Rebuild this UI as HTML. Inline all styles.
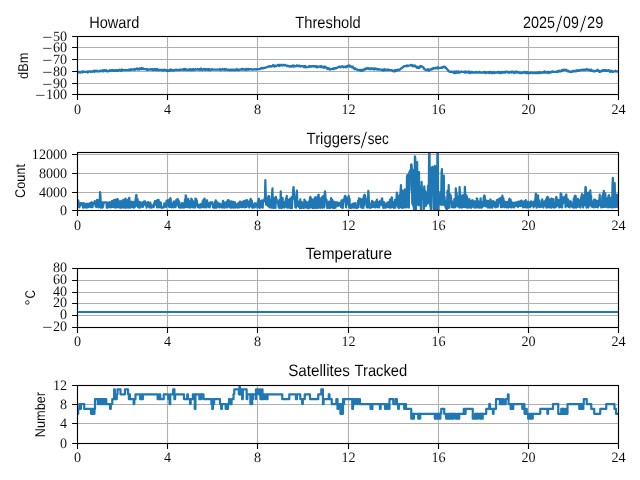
<!DOCTYPE html>
<html lang="en"><head><meta charset="utf-8"><title>Howard Threshold 2025/09/29</title>
<style>html,body{margin:0;padding:0;background:#fff;overflow:hidden}svg{display:block;will-change:transform}text{text-rendering:geometricPrecision}.t{font-family:"Liberation Serif",serif;font-size:14.30px;fill:#000;stroke:#fff;stroke-width:0.07px}.s{font-family:"Liberation Sans",sans-serif;fill:#000;stroke:#fff;stroke-width:0.05px}.g{stroke:#b0b0b0;stroke-width:1.11;fill:none}.k{stroke:#000;stroke-width:1.11;fill:none}.d{stroke:#1f77b4;stroke-width:2.2;fill:none;stroke-linejoin:round;stroke-linecap:butt}</style></head><body>
<svg width="640" height="480" viewBox="0 0 640 480">
<rect width="640" height="480" fill="#fff"/>
<defs>
<clipPath id="c0"><rect x="77.5" y="36.5" width="541.0" height="58.0"/></clipPath>
<clipPath id="c1"><rect x="77.5" y="152.5" width="541.0" height="58.0"/></clipPath>
<clipPath id="c2"><rect x="77.5" y="268.5" width="541.0" height="59.0"/></clipPath>
<clipPath id="c3"><rect x="77.5" y="385.5" width="541.0" height="58.0"/></clipPath>
</defs>
<path class="g" d="M77.5 36.5V94.5M167.5 36.5V94.5M257.5 36.5V94.5M348.5 36.5V94.5M438.5 36.5V94.5M528.5 36.5V94.5M618.5 36.5V94.5M77.5 36.5H618.5M77.5 47.5H618.5M77.5 59.5H618.5M77.5 71.5H618.5M77.5 83.5H618.5M77.5 94.5H618.5"/>
<polyline class="d" clip-path="url(#c0)" points="77.50,71.95 77.88,72.54 78.25,71.95 78.63,71.95 79.00,71.95 79.38,71.95 79.75,72.54 80.13,72.54 80.51,72.54 80.88,71.95 81.26,71.95 81.63,71.95 82.01,71.37 82.38,72.54 82.76,71.95 83.14,71.95 83.51,71.37 83.89,71.37 84.26,71.95 84.64,71.95 85.01,71.95 85.39,71.95 85.77,71.95 86.14,71.95 86.52,71.95 86.89,71.95 87.27,71.37 87.64,72.54 88.02,71.95 88.40,71.95 88.77,71.37 89.15,71.37 89.52,71.37 89.90,71.37 90.27,71.95 90.65,71.95 91.03,71.37 91.40,71.37 91.78,71.37 92.15,71.95 92.53,71.37 92.90,71.37 93.28,71.37 93.65,70.78 94.03,71.37 94.41,71.95 94.78,70.78 95.16,71.37 95.53,71.37 95.91,70.78 96.28,71.37 96.66,71.37 97.04,70.78 97.41,71.37 97.79,71.37 98.16,71.37 98.54,71.37 98.91,71.37 99.29,71.37 99.67,70.78 100.04,71.37 100.42,70.78 100.79,70.78 101.17,70.78 101.54,70.78 101.92,70.78 102.30,71.37 102.67,70.20 103.05,70.20 103.42,70.78 103.80,71.37 104.17,70.78 104.55,70.20 104.93,70.20 105.30,70.78 105.68,70.78 106.05,70.20 106.43,70.78 106.80,71.37 107.18,70.78 107.56,70.78 107.93,70.78 108.31,71.37 108.68,70.78 109.06,70.78 109.43,70.78 109.81,70.20 110.19,70.78 110.56,70.78 110.94,70.78 111.31,70.20 111.69,70.20 112.06,70.78 112.44,70.20 112.82,70.20 113.19,70.78 113.57,70.20 113.94,70.78 114.32,70.78 114.69,70.20 115.07,70.78 115.45,70.78 115.82,70.20 116.20,70.78 116.57,70.20 116.95,70.20 117.32,70.78 117.70,70.20 118.08,70.20 118.45,70.78 118.83,70.78 119.20,70.20 119.58,69.61 119.95,70.20 120.33,70.20 120.70,70.20 121.08,70.78 121.46,69.61 121.83,70.78 122.21,69.61 122.58,69.61 122.96,70.20 123.33,70.20 123.71,70.20 124.09,70.20 124.46,70.20 124.84,70.20 125.21,70.20 125.59,70.20 125.96,70.20 126.34,70.20 126.72,70.20 127.09,70.20 127.47,70.20 127.84,70.20 128.22,70.20 128.59,69.61 128.97,69.61 129.35,69.61 129.72,70.20 130.10,69.61 130.47,69.61 130.85,70.20 131.22,69.03 131.60,69.03 131.98,69.61 132.35,69.61 132.73,69.61 133.10,69.61 133.48,69.61 133.85,69.61 134.23,69.03 134.61,70.20 134.98,69.61 135.36,69.03 135.73,69.03 136.11,69.03 136.48,69.03 136.86,68.44 137.24,69.03 137.61,69.61 137.99,68.44 138.36,69.03 138.74,69.03 139.11,69.03 139.49,69.61 139.87,68.44 140.24,68.44 140.62,68.44 140.99,69.03 141.37,69.03 141.74,67.86 142.12,69.03 142.50,68.44 142.87,69.03 143.25,68.44 143.62,69.03 144.00,69.03 144.37,69.03 144.75,69.03 145.12,69.03 145.50,69.03 145.88,69.03 146.25,69.61 146.63,69.61 147.00,69.03 147.38,70.20 147.75,69.03 148.13,69.61 148.51,69.61 148.88,69.61 149.26,69.61 149.63,69.61 150.01,69.61 150.38,69.03 150.76,69.03 151.14,69.61 151.51,69.61 151.89,69.03 152.26,69.03 152.64,70.20 153.01,69.61 153.39,70.20 153.77,69.03 154.14,69.61 154.52,69.03 154.89,69.61 155.27,70.20 155.64,69.03 156.02,70.20 156.40,69.61 156.77,69.61 157.15,69.03 157.52,70.20 157.90,69.61 158.27,69.61 158.65,70.20 159.03,70.20 159.40,70.20 159.78,69.61 160.15,70.20 160.53,70.20 160.90,70.20 161.28,70.20 161.66,69.61 162.03,70.20 162.41,70.20 162.78,70.20 163.16,70.78 163.53,70.20 163.91,69.61 164.29,70.20 164.66,69.61 165.04,70.20 165.41,70.20 165.79,70.20 166.16,70.20 166.54,70.78 166.92,70.20 167.29,70.78 167.67,70.20 168.04,70.78 168.42,70.78 168.79,70.78 169.17,70.20 169.55,70.78 169.92,69.61 170.30,70.20 170.67,69.61 171.05,70.78 171.42,69.61 171.80,70.20 172.18,70.20 172.55,70.20 172.93,70.20 173.30,70.20 173.68,70.78 174.05,70.20 174.43,70.20 174.80,70.20 175.18,70.20 175.56,69.61 175.93,70.20 176.31,70.20 176.68,69.61 177.06,69.61 177.43,70.20 177.81,70.20 178.19,70.20 178.56,70.20 178.94,70.20 179.31,69.61 179.69,69.61 180.06,69.61 180.44,70.20 180.82,69.61 181.19,69.61 181.57,69.61 181.94,69.61 182.32,69.61 182.69,69.61 183.07,70.20 183.45,69.03 183.82,69.61 184.20,69.61 184.57,69.03 184.95,70.20 185.32,69.61 185.70,69.03 186.08,69.61 186.45,69.61 186.83,69.61 187.20,70.20 187.58,69.61 187.95,69.61 188.33,69.61 188.71,70.20 189.08,69.61 189.46,69.61 189.83,69.03 190.21,69.61 190.58,70.20 190.96,69.61 191.34,69.61 191.71,70.20 192.09,69.03 192.46,69.61 192.84,70.20 193.21,69.03 193.59,69.61 193.97,70.20 194.34,69.61 194.72,69.61 195.09,69.61 195.47,69.03 195.84,69.61 196.22,69.61 196.60,69.61 196.97,69.61 197.35,69.61 197.72,69.03 198.10,69.61 198.47,69.61 198.85,69.61 199.22,69.03 199.60,69.03 199.98,70.20 200.35,69.61 200.73,69.61 201.10,68.44 201.48,69.61 201.85,69.61 202.23,70.20 202.61,69.61 202.98,69.61 203.36,69.61 203.73,69.03 204.11,69.61 204.48,69.61 204.86,69.03 205.24,69.61 205.61,70.20 205.99,69.03 206.36,69.61 206.74,69.61 207.11,69.61 207.49,69.61 207.87,69.03 208.24,70.20 208.62,69.61 208.99,69.03 209.37,69.03 209.74,70.20 210.12,69.61 210.50,70.20 210.87,69.61 211.25,69.61 211.62,69.61 212.00,69.03 212.37,69.61 212.75,69.61 213.13,69.61 213.50,69.61 213.88,69.61 214.25,69.61 214.63,69.61 215.00,69.61 215.38,69.61 215.76,69.61 216.13,69.61 216.51,69.61 216.88,69.61 217.26,69.61 217.63,69.61 218.01,69.61 218.39,69.61 218.76,69.61 219.14,69.61 219.51,69.61 219.89,69.03 220.26,69.61 220.64,70.20 221.02,69.61 221.39,69.61 221.77,69.61 222.14,69.61 222.52,69.03 222.89,69.61 223.27,69.61 223.65,69.61 224.02,69.61 224.40,69.03 224.77,69.61 225.15,70.20 225.52,69.61 225.90,69.03 226.28,69.61 226.65,69.61 227.03,69.61 227.40,69.61 227.78,70.20 228.15,69.61 228.53,69.61 228.90,69.61 229.28,70.20 229.66,70.20 230.03,70.20 230.41,69.61 230.78,69.61 231.16,70.20 231.53,69.61 231.91,70.20 232.29,69.61 232.66,70.20 233.04,69.61 233.41,70.20 233.79,70.20 234.16,69.61 234.54,69.61 234.92,70.20 235.29,69.61 235.67,70.20 236.04,70.20 236.42,69.61 236.79,69.03 237.17,69.61 237.55,69.61 237.92,70.20 238.30,69.61 238.67,69.61 239.05,70.20 239.42,69.61 239.80,69.61 240.18,69.61 240.55,69.61 240.93,69.61 241.30,69.03 241.68,69.61 242.05,69.61 242.43,69.03 242.81,69.61 243.18,69.03 243.56,69.61 243.93,69.61 244.31,69.61 244.68,69.61 245.06,69.61 245.44,69.03 245.81,70.20 246.19,69.61 246.56,69.61 246.94,69.03 247.31,69.61 247.69,69.03 248.07,69.61 248.44,69.61 248.82,69.03 249.19,69.61 249.57,69.61 249.94,69.03 250.32,69.03 250.70,69.03 251.07,69.03 251.45,69.03 251.82,69.61 252.20,69.61 252.57,69.61 252.95,69.61 253.32,69.61 253.70,69.61 254.08,69.03 254.45,69.03 254.83,69.03 255.20,69.03 255.58,69.61 255.95,69.61 256.33,69.61 256.71,69.03 257.08,69.03 257.46,69.03 257.83,69.03 258.21,69.03 258.58,69.03 258.96,69.03 259.34,69.03 259.71,69.03 260.09,69.03 260.46,68.44 260.84,68.44 261.21,67.86 261.59,68.44 261.97,68.44 262.34,67.86 262.72,68.44 263.09,68.44 263.47,67.86 263.84,67.86 264.22,67.86 264.60,67.86 264.97,67.86 265.35,67.86 265.72,67.27 266.10,67.27 266.47,67.27 266.85,67.27 267.23,67.27 267.60,66.69 267.98,66.69 268.35,66.69 268.73,66.69 269.10,66.10 269.48,66.69 269.86,66.10 270.23,66.10 270.61,66.69 270.98,66.10 271.36,66.69 271.73,66.10 272.11,66.10 272.49,66.10 272.86,66.10 273.24,64.94 273.61,65.52 273.99,66.10 274.36,66.10 274.74,66.69 275.12,65.52 275.49,66.10 275.87,66.10 276.24,66.10 276.62,65.52 276.99,65.52 277.37,65.52 277.75,64.94 278.12,65.52 278.50,64.94 278.87,65.52 279.25,66.10 279.62,64.94 280.00,64.94 280.38,65.52 280.75,64.94 281.13,64.94 281.50,64.94 281.88,64.94 282.25,65.52 282.63,64.94 283.00,65.52 283.38,65.52 283.76,64.94 284.13,64.94 284.51,64.94 284.88,65.52 285.26,64.94 285.63,65.52 286.01,65.52 286.39,65.52 286.76,65.52 287.14,66.10 287.51,65.52 287.89,65.52 288.26,66.10 288.64,66.10 289.02,66.10 289.39,66.69 289.77,66.69 290.14,66.10 290.52,66.69 290.89,66.10 291.27,66.69 291.65,66.10 292.02,66.10 292.40,65.52 292.77,66.69 293.15,66.69 293.52,65.52 293.90,65.52 294.28,65.52 294.65,66.69 295.03,66.10 295.40,66.10 295.78,66.10 296.15,66.10 296.53,65.52 296.91,66.10 297.28,65.52 297.66,66.10 298.03,66.10 298.41,66.10 298.78,66.10 299.16,65.52 299.54,66.10 299.91,66.10 300.29,66.69 300.66,66.10 301.04,66.10 301.41,66.10 301.79,66.10 302.17,66.10 302.54,66.10 302.92,66.10 303.29,66.69 303.67,66.69 304.04,67.27 304.42,66.10 304.80,66.69 305.17,67.27 305.55,66.10 305.92,66.69 306.30,67.27 306.67,67.27 307.05,67.27 307.43,67.27 307.80,67.27 308.18,67.27 308.55,67.27 308.93,66.10 309.30,66.69 309.68,66.69 310.05,66.10 310.43,66.10 310.81,66.69 311.18,66.10 311.56,66.69 311.93,66.69 312.31,66.10 312.68,66.10 313.06,66.10 313.44,66.10 313.81,66.10 314.19,66.69 314.56,66.10 314.94,66.10 315.31,66.69 315.69,66.10 316.07,66.69 316.44,67.27 316.82,66.10 317.19,66.69 317.57,66.69 317.94,67.27 318.32,66.69 318.70,66.69 319.07,66.69 319.45,66.69 319.82,66.69 320.20,66.10 320.57,67.27 320.95,67.27 321.33,66.10 321.70,67.27 322.08,66.69 322.45,67.27 322.83,67.27 323.20,66.69 323.58,67.27 323.96,67.86 324.33,67.27 324.71,66.69 325.08,66.69 325.46,66.69 325.83,67.27 326.21,67.86 326.59,67.86 326.96,67.86 327.34,69.03 327.71,67.86 328.09,68.44 328.46,69.03 328.84,69.03 329.22,68.44 329.59,69.03 329.97,69.61 330.34,69.03 330.72,69.03 331.09,69.03 331.47,69.03 331.85,69.03 332.22,69.03 332.60,69.03 332.97,68.44 333.35,69.03 333.72,69.03 334.10,68.44 334.48,68.44 334.85,67.86 335.23,68.44 335.60,68.44 335.98,68.44 336.35,67.86 336.73,67.86 337.10,67.86 337.48,67.27 337.86,67.27 338.23,67.27 338.61,67.27 338.98,66.69 339.36,66.69 339.73,67.27 340.11,67.27 340.49,66.69 340.86,67.27 341.24,66.69 341.61,66.69 341.99,66.69 342.36,66.10 342.74,66.69 343.12,66.69 343.49,67.27 343.87,66.69 344.24,66.69 344.62,66.69 344.99,66.69 345.37,67.27 345.75,66.69 346.12,67.27 346.50,66.10 346.87,66.69 347.25,66.10 347.62,66.69 348.00,65.52 348.38,65.52 348.75,66.10 349.13,66.10 349.50,65.52 349.88,66.69 350.25,66.10 350.63,66.10 351.01,66.69 351.38,66.69 351.76,67.27 352.13,66.69 352.51,67.27 352.88,66.69 353.26,67.86 353.64,67.86 354.01,68.44 354.39,69.03 354.76,68.44 355.14,68.44 355.51,68.44 355.89,69.03 356.27,69.03 356.64,69.61 357.02,69.61 357.39,69.61 357.77,69.61 358.14,70.20 358.52,70.20 358.90,70.20 359.27,70.20 359.65,70.20 360.02,69.61 360.40,70.78 360.77,70.20 361.15,70.20 361.52,70.78 361.90,70.20 362.28,69.61 362.65,70.78 363.03,70.20 363.40,70.20 363.78,69.61 364.15,69.61 364.53,69.03 364.91,69.61 365.28,69.03 365.66,68.44 366.03,68.44 366.41,68.44 366.78,69.03 367.16,68.44 367.54,68.44 367.91,67.86 368.29,68.44 368.66,68.44 369.04,69.03 369.41,68.44 369.79,68.44 370.17,69.03 370.54,68.44 370.92,69.03 371.29,69.03 371.67,68.44 372.04,69.03 372.42,68.44 372.80,68.44 373.17,68.44 373.55,69.03 373.92,69.03 374.30,69.61 374.67,68.44 375.05,69.03 375.43,69.03 375.80,68.44 376.18,69.03 376.55,69.03 376.93,69.03 377.30,69.61 377.68,69.03 378.06,69.61 378.43,69.03 378.81,69.03 379.18,69.03 379.56,69.61 379.93,69.61 380.31,69.61 380.69,69.61 381.06,69.61 381.44,70.20 381.81,69.61 382.19,69.61 382.56,70.20 382.94,69.61 383.32,69.61 383.69,70.78 384.07,70.20 384.44,69.03 384.82,69.61 385.19,70.20 385.57,70.20 385.95,70.20 386.32,69.61 386.70,69.61 387.07,70.20 387.45,70.20 387.82,69.61 388.20,69.61 388.57,70.20 388.95,69.61 389.33,70.20 389.70,70.20 390.08,70.20 390.45,70.20 390.83,70.20 391.20,70.20 391.58,70.20 391.96,70.20 392.33,70.78 392.71,70.78 393.08,70.78 393.46,71.37 393.83,70.78 394.21,70.78 394.59,70.20 394.96,71.37 395.34,70.20 395.71,70.78 396.09,70.78 396.46,70.20 396.84,70.78 397.22,70.20 397.59,69.61 397.97,70.20 398.34,70.20 398.72,69.61 399.09,70.20 399.47,69.61 399.85,69.61 400.22,69.03 400.60,69.03 400.97,68.44 401.35,68.44 401.72,67.86 402.10,67.86 402.48,67.27 402.85,67.27 403.23,67.27 403.60,66.69 403.98,66.10 404.35,66.10 404.73,66.10 405.11,66.10 405.48,66.10 405.86,66.10 406.23,66.10 406.61,65.52 406.98,66.10 407.36,65.52 407.74,65.52 408.11,66.10 408.49,65.52 408.86,65.52 409.24,65.52 409.61,65.52 409.99,65.52 410.37,65.52 410.74,64.94 411.12,65.52 411.49,65.52 411.87,64.94 412.24,66.10 412.62,65.52 413.00,65.52 413.37,66.10 413.75,66.10 414.12,65.52 414.50,66.10 414.87,65.52 415.25,66.69 415.62,66.10 416.00,66.69 416.38,66.69 416.75,67.27 417.13,67.86 417.50,66.69 417.88,67.27 418.25,67.86 418.63,67.86 419.01,67.27 419.38,67.86 419.76,67.27 420.13,66.10 420.51,66.69 420.88,66.10 421.26,66.69 421.64,66.10 422.01,66.69 422.39,67.27 422.76,67.27 423.14,67.27 423.51,67.27 423.89,68.44 424.27,69.03 424.64,69.03 425.02,69.61 425.39,69.61 425.77,70.20 426.14,69.61 426.52,70.20 426.90,70.20 427.27,70.20 427.65,70.20 428.02,69.03 428.40,70.20 428.77,70.20 429.15,70.78 429.53,69.61 429.90,69.61 430.28,69.61 430.65,69.61 431.03,69.03 431.40,69.61 431.78,69.03 432.16,69.03 432.53,68.44 432.91,69.03 433.28,68.44 433.66,67.86 434.03,68.44 434.41,68.44 434.79,67.86 435.16,67.86 435.54,68.44 435.91,67.86 436.29,67.86 436.66,67.86 437.04,68.44 437.42,67.86 437.79,67.27 438.17,68.44 438.54,68.44 438.92,67.86 439.29,67.86 439.67,67.86 440.05,67.86 440.42,67.86 440.80,67.86 441.17,67.86 441.55,67.86 441.92,67.27 442.30,67.86 442.68,67.27 443.05,67.27 443.43,66.69 443.80,67.27 444.18,67.27 444.55,67.27 444.93,66.69 445.30,67.27 445.68,67.86 446.06,67.86 446.43,68.44 446.81,69.03 447.18,69.03 447.56,69.61 447.93,70.20 448.31,70.78 448.69,70.78 449.06,71.37 449.44,71.37 449.81,71.95 450.19,71.95 450.56,71.95 450.94,71.95 451.32,71.37 451.69,71.95 452.07,71.95 452.44,71.95 452.82,71.95 453.19,72.54 453.57,71.95 453.95,73.12 454.32,71.37 454.70,71.95 455.07,71.95 455.45,72.54 455.82,73.12 456.20,71.37 456.58,72.54 456.95,72.54 457.33,71.95 457.70,72.54 458.08,71.37 458.45,72.54 458.83,72.54 459.21,71.95 459.58,71.95 459.96,72.54 460.33,71.95 460.71,71.95 461.08,71.95 461.46,71.37 461.84,71.95 462.21,71.95 462.59,71.95 462.96,71.95 463.34,71.95 463.71,71.95 464.09,71.95 464.47,72.54 464.84,72.54 465.22,71.37 465.59,71.37 465.97,71.95 466.34,72.54 466.72,71.95 467.10,71.95 467.47,71.95 467.85,71.95 468.22,72.54 468.60,71.95 468.97,71.37 469.35,71.95 469.73,73.12 470.10,73.12 470.48,71.95 470.85,71.95 471.23,72.54 471.60,71.95 471.98,72.54 472.35,72.54 472.73,71.95 473.11,72.54 473.48,72.54 473.86,72.54 474.23,72.54 474.61,72.54 474.98,72.54 475.36,72.54 475.74,71.95 476.11,71.95 476.49,71.95 476.86,72.54 477.24,72.54 477.61,72.54 477.99,72.54 478.37,72.54 478.74,71.95 479.12,71.95 479.49,71.95 479.87,72.54 480.24,72.54 480.62,72.54 481.00,72.54 481.37,72.54 481.75,72.54 482.12,72.54 482.50,72.54 482.87,72.54 483.25,72.54 483.63,72.54 484.00,71.95 484.38,72.54 484.75,71.95 485.13,71.95 485.50,73.12 485.88,73.12 486.26,72.54 486.63,72.54 487.01,72.54 487.38,72.54 487.76,72.54 488.13,71.95 488.51,72.54 488.89,72.54 489.26,73.12 489.64,72.54 490.01,71.95 490.39,72.54 490.76,72.54 491.14,71.95 491.52,73.12 491.89,72.54 492.27,72.54 492.64,73.12 493.02,72.54 493.39,72.54 493.77,71.95 494.15,72.54 494.52,73.12 494.90,72.54 495.27,72.54 495.65,72.54 496.02,72.54 496.40,72.54 496.77,72.54 497.15,72.54 497.53,71.95 497.90,72.54 498.28,72.54 498.65,71.95 499.03,71.95 499.40,72.54 499.78,73.12 500.16,72.54 500.53,72.54 500.91,71.95 501.28,73.12 501.66,72.54 502.03,72.54 502.41,71.95 502.79,71.95 503.16,71.95 503.54,72.54 503.91,72.54 504.29,71.95 504.66,72.54 505.04,71.95 505.42,72.54 505.79,71.95 506.17,71.37 506.54,71.95 506.92,71.95 507.29,71.95 507.67,71.95 508.05,72.54 508.42,71.95 508.80,71.95 509.17,72.54 509.55,72.54 509.92,71.95 510.30,71.95 510.68,71.95 511.05,71.95 511.43,72.54 511.80,71.95 512.18,71.37 512.55,71.95 512.93,71.95 513.31,72.54 513.68,71.95 514.06,71.95 514.43,73.12 514.81,71.95 515.18,71.95 515.56,71.95 515.94,71.37 516.31,71.95 516.69,72.54 517.06,71.95 517.44,71.95 517.81,71.95 518.19,72.54 518.57,71.95 518.94,72.54 519.32,72.54 519.69,72.54 520.07,73.12 520.44,72.54 520.82,72.54 521.20,72.54 521.57,73.12 521.95,73.12 522.32,72.54 522.70,72.54 523.07,72.54 523.45,72.54 523.83,72.54 524.20,71.95 524.58,72.54 524.95,71.95 525.33,73.12 525.70,72.54 526.08,72.54 526.45,73.12 526.83,73.12 527.21,71.95 527.58,73.12 527.96,73.12 528.33,73.12 528.71,72.54 529.08,73.12 529.46,73.12 529.84,72.54 530.21,72.54 530.59,73.12 530.96,72.54 531.34,72.54 531.71,72.54 532.09,72.54 532.47,72.54 532.84,73.12 533.22,73.12 533.59,73.12 533.97,72.54 534.34,72.54 534.72,73.12 535.10,73.12 535.47,73.12 535.85,72.54 536.22,73.12 536.60,72.54 536.97,73.12 537.35,73.12 537.73,72.54 538.10,73.12 538.48,72.54 538.85,73.12 539.23,72.54 539.60,71.95 539.98,72.54 540.36,72.54 540.73,73.12 541.11,72.54 541.48,72.54 541.86,72.54 542.23,72.54 542.61,72.54 542.99,71.95 543.36,72.54 543.74,72.54 544.11,72.54 544.49,71.37 544.86,72.54 545.24,72.54 545.62,71.95 545.99,72.54 546.37,72.54 546.74,72.54 547.12,71.95 547.49,72.54 547.87,71.95 548.25,73.12 548.62,71.95 549.00,72.54 549.37,71.95 549.75,71.95 550.12,72.54 550.50,72.54 550.88,72.54 551.25,71.95 551.63,71.95 552.00,71.37 552.38,71.95 552.75,71.95 553.13,71.37 553.50,71.95 553.88,71.95 554.26,71.95 554.63,71.95 555.01,71.95 555.38,71.95 555.76,71.95 556.13,71.95 556.51,71.37 556.89,71.37 557.26,71.95 557.64,71.37 558.01,71.95 558.39,70.78 558.76,71.37 559.14,71.37 559.52,70.78 559.89,71.37 560.27,71.37 560.64,71.37 561.02,71.37 561.39,70.78 561.77,70.20 562.15,70.78 562.52,70.78 562.90,70.20 563.27,69.61 563.65,70.20 564.02,70.20 564.40,70.20 564.78,69.61 565.15,70.20 565.53,70.20 565.90,70.20 566.28,69.61 566.65,70.78 567.03,70.78 567.41,70.78 567.78,71.37 568.16,70.78 568.53,71.37 568.91,71.37 569.28,71.37 569.66,71.95 570.04,71.37 570.41,71.95 570.79,71.95 571.16,71.95 571.54,71.37 571.91,71.95 572.29,71.37 572.67,71.37 573.04,70.78 573.42,71.37 573.79,71.37 574.17,71.37 574.54,71.37 574.92,70.78 575.30,70.78 575.67,70.78 576.05,71.37 576.42,70.78 576.80,70.20 577.17,70.78 577.55,70.78 577.92,70.78 578.30,70.78 578.68,70.20 579.05,70.78 579.43,70.78 579.80,70.20 580.18,70.20 580.55,70.20 580.93,70.20 581.31,70.20 581.68,70.20 582.06,69.61 582.43,70.20 582.81,69.61 583.18,70.20 583.56,69.61 583.94,69.61 584.31,69.61 584.69,69.61 585.06,70.20 585.44,70.20 585.81,69.61 586.19,69.61 586.57,69.03 586.94,69.61 587.32,69.61 587.69,69.61 588.07,70.20 588.44,69.61 588.82,69.61 589.20,69.61 589.57,69.61 589.95,70.20 590.32,70.78 590.70,70.20 591.07,70.20 591.45,69.61 591.83,70.78 592.20,70.78 592.58,70.78 592.95,70.78 593.33,71.37 593.70,71.37 594.08,70.78 594.46,71.37 594.83,71.37 595.21,70.78 595.58,70.78 595.96,70.78 596.33,70.78 596.71,70.78 597.09,70.20 597.46,69.61 597.84,70.78 598.21,70.78 598.59,71.37 598.96,70.78 599.34,71.95 599.72,71.95 600.09,71.95 600.47,71.37 600.84,71.37 601.22,70.78 601.59,71.37 601.97,70.78 602.35,70.78 602.72,70.20 603.10,70.78 603.47,70.20 603.85,70.20 604.22,70.20 604.60,70.78 604.98,70.78 605.35,70.20 605.73,70.78 606.10,70.78 606.48,70.20 606.85,70.78 607.23,70.78 607.60,70.78 607.98,70.78 608.36,70.20 608.73,70.20 609.11,70.78 609.48,70.78 609.86,71.95 610.23,70.78 610.61,71.37 610.99,71.37 611.36,70.78 611.74,71.37 612.11,71.95 612.49,71.37 612.86,71.95 613.24,71.95 613.62,71.37 613.99,71.37 614.37,71.37 614.74,71.37 615.12,71.37 615.49,70.78 615.87,71.37 616.25,71.37 616.62,71.37 617.00,71.37 617.37,71.37 617.75,71.37 618.12,71.95 618.50,71.37"/>
<path class="k" d="M77.5 94.5v5.4M167.5 94.5v5.4M257.5 94.5v5.4M348.5 94.5v5.4M438.5 94.5v5.4M528.5 94.5v5.4M618.5 94.5v5.4M77.5 36.5h-5.4M77.5 47.5h-5.4M77.5 59.5h-5.4M77.5 71.5h-5.4M77.5 83.5h-5.4M77.5 94.5h-5.4"/>
<rect class="k" x="77.5" y="36.5" width="541.0" height="58.0" stroke-linejoin="miter"/>
<text class="t"><tspan x="42.24" y="41.73" textLength="10.2" lengthAdjust="spacingAndGlyphs" style="stroke:none">−</tspan><tspan x="67.20" y="40.73" text-anchor="end" textLength="14.16" lengthAdjust="spacingAndGlyphs">50</tspan></text>
<text class="t"><tspan x="42.24" y="52.73" textLength="10.2" lengthAdjust="spacingAndGlyphs" style="stroke:none">−</tspan><tspan x="67.20" y="51.73" text-anchor="end" textLength="14.16" lengthAdjust="spacingAndGlyphs">60</tspan></text>
<text class="t"><tspan x="42.24" y="64.72" textLength="10.2" lengthAdjust="spacingAndGlyphs" style="stroke:none">−</tspan><tspan x="67.20" y="63.73" text-anchor="end" textLength="14.16" lengthAdjust="spacingAndGlyphs">70</tspan></text>
<text class="t"><tspan x="42.24" y="76.72" textLength="10.2" lengthAdjust="spacingAndGlyphs" style="stroke:none">−</tspan><tspan x="67.20" y="75.72" text-anchor="end" textLength="14.16" lengthAdjust="spacingAndGlyphs">80</tspan></text>
<text class="t"><tspan x="42.24" y="88.72" textLength="10.2" lengthAdjust="spacingAndGlyphs" style="stroke:none">−</tspan><tspan x="67.20" y="87.72" text-anchor="end" textLength="14.16" lengthAdjust="spacingAndGlyphs">90</tspan></text>
<text class="t"><tspan x="35.16" y="99.72" textLength="10.2" lengthAdjust="spacingAndGlyphs" style="stroke:none">−</tspan><tspan x="67.20" y="98.72" text-anchor="end" textLength="21.24" lengthAdjust="spacingAndGlyphs">100</tspan></text>
<text class="t" x="77.50" y="113.85" text-anchor="middle" textLength="7.08" lengthAdjust="spacingAndGlyphs">0</text>
<text class="t" x="167.50" y="113.85" text-anchor="middle" textLength="7.08" lengthAdjust="spacingAndGlyphs">4</text>
<text class="t" x="257.50" y="113.85" text-anchor="middle" textLength="7.08" lengthAdjust="spacingAndGlyphs">8</text>
<text class="t" x="348.50" y="113.85" text-anchor="middle" textLength="14.16" lengthAdjust="spacingAndGlyphs">12</text>
<text class="t" x="438.50" y="113.85" text-anchor="middle" textLength="14.16" lengthAdjust="spacingAndGlyphs">16</text>
<text class="t" x="528.50" y="113.85" text-anchor="middle" textLength="14.16" lengthAdjust="spacingAndGlyphs">20</text>
<text class="t" x="618.50" y="113.85" text-anchor="middle" textLength="14.16" lengthAdjust="spacingAndGlyphs">24</text>
<path class="g" d="M77.5 152.5V210.5M167.5 152.5V210.5M257.5 152.5V210.5M348.5 152.5V210.5M438.5 152.5V210.5M528.5 152.5V210.5M618.5 152.5V210.5M77.5 154.5H618.5M77.5 173.5H618.5M77.5 192.5H618.5M77.5 210.5H618.5"/>
<polyline class="d" clip-path="url(#c1)" points="77.50,207.22 77.88,206.93 78.25,200.30 78.63,203.98 79.00,206.31 79.38,207.34 79.75,205.82 80.13,205.67 80.51,203.13 80.88,204.17 81.26,204.42 81.63,205.01 82.01,203.21 82.38,203.93 82.76,203.66 83.14,207.62 83.51,203.17 83.89,203.22 84.26,203.87 84.64,207.27 85.01,203.81 85.39,204.51 85.77,207.39 86.14,207.59 86.52,204.61 86.89,203.55 87.27,204.00 87.64,207.46 88.02,206.69 88.40,204.07 88.77,206.87 89.15,203.50 89.52,203.58 89.90,203.18 90.27,206.08 90.65,207.24 91.03,202.80 91.40,203.77 91.78,202.24 92.15,205.14 92.53,207.20 92.90,203.20 93.28,204.21 93.65,202.99 94.03,202.94 94.41,202.63 94.78,201.10 95.16,201.65 95.53,206.04 95.91,203.39 96.28,207.12 96.66,206.56 97.04,199.85 97.41,199.86 97.79,202.17 98.16,200.37 98.54,207.32 98.91,206.81 99.29,201.76 99.67,203.80 100.04,192.00 100.42,195.07 100.79,207.60 101.17,201.49 101.54,202.02 101.92,207.66 102.30,202.47 102.67,207.50 103.05,206.57 103.42,204.10 103.80,202.30 104.17,202.30 104.55,202.30 104.93,202.30 105.30,202.30 105.68,202.30 106.05,202.30 106.43,202.30 106.80,207.61 107.18,207.25 107.56,207.49 107.93,202.71 108.31,207.32 108.68,204.52 109.06,204.42 109.43,206.59 109.81,202.12 110.19,205.74 110.56,207.49 110.94,207.29 111.31,205.20 111.69,206.57 112.06,200.78 112.44,203.84 112.82,207.00 113.19,203.63 113.57,206.91 113.94,200.16 114.32,207.22 114.69,202.23 115.07,207.66 115.45,199.63 115.82,206.43 116.20,204.14 116.57,200.75 116.95,207.52 117.32,199.10 117.70,199.13 118.08,200.10 118.45,207.26 118.83,205.25 119.20,206.76 119.58,206.27 119.95,207.59 120.33,200.98 120.70,203.28 121.08,205.62 121.46,207.56 121.83,204.43 122.21,205.17 122.58,200.46 122.96,207.15 123.33,202.09 123.71,207.54 124.09,199.65 124.46,207.15 124.84,204.09 125.21,207.55 125.59,198.70 125.96,201.32 126.34,207.63 126.72,200.32 127.09,206.02 127.47,207.26 127.84,200.42 128.22,199.57 128.59,207.63 128.97,197.95 129.35,197.80 129.72,207.38 130.10,203.58 130.47,207.58 130.85,202.02 131.22,206.64 131.60,201.70 131.98,205.70 132.35,202.41 132.73,207.07 133.10,202.07 133.48,201.87 133.85,207.65 134.23,207.48 134.61,205.90 134.98,207.05 135.36,200.70 135.73,198.67 136.11,195.30 136.48,194.93 136.86,205.66 137.24,199.56 137.61,199.18 137.99,206.94 138.36,207.42 138.74,205.94 139.11,201.73 139.49,203.80 139.87,207.61 140.24,202.04 140.62,203.10 140.99,205.39 141.37,202.75 141.74,203.29 142.12,206.97 142.50,205.44 142.87,207.01 143.25,201.89 143.62,204.44 144.00,201.86 144.37,201.31 144.75,201.31 145.12,201.41 145.50,205.51 145.88,202.59 146.25,205.60 146.63,207.59 147.00,205.94 147.38,203.26 147.75,202.99 148.13,202.12 148.51,205.65 148.88,203.09 149.26,207.38 149.63,207.48 150.01,206.93 150.38,202.67 150.76,206.23 151.14,207.65 151.51,205.88 151.89,205.27 152.26,207.06 152.64,205.62 153.01,207.25 153.39,207.20 153.77,206.50 154.14,203.01 154.52,204.77 154.89,201.08 155.27,201.21 155.64,201.10 156.02,204.95 156.40,200.80 156.77,201.27 157.15,207.47 157.52,200.22 157.90,205.07 158.27,200.23 158.65,199.90 159.03,207.30 159.40,205.67 159.78,201.84 160.15,202.41 160.53,207.51 160.90,202.81 161.28,206.94 161.66,207.61 162.03,207.64 162.41,207.12 162.78,207.65 163.16,207.13 163.53,207.21 163.91,207.36 164.29,203.30 164.66,204.53 165.04,203.89 165.41,203.98 165.79,204.02 166.16,207.14 166.54,200.72 166.92,202.04 167.29,205.18 167.67,200.66 168.04,203.93 168.42,199.95 168.79,200.06 169.17,207.05 169.55,202.45 169.92,205.87 170.30,198.19 170.67,198.54 171.05,207.16 171.42,203.60 171.80,207.41 172.18,206.95 172.55,203.90 172.93,205.94 173.30,202.32 173.68,207.38 174.05,201.27 174.43,202.74 174.80,206.98 175.18,204.26 175.56,207.18 175.93,204.84 176.31,199.90 176.68,203.32 177.06,199.35 177.43,201.97 177.81,199.20 178.19,205.87 178.56,200.59 178.94,207.30 179.31,201.94 179.69,206.81 180.06,207.69 180.44,205.32 180.82,207.65 181.19,207.19 181.57,205.42 181.94,203.11 182.32,207.30 182.69,204.18 183.07,206.96 183.45,203.33 183.82,207.68 184.20,207.39 184.57,207.00 184.95,199.71 185.32,207.13 185.70,195.37 186.08,196.26 186.45,206.29 186.83,206.65 187.20,207.19 187.58,204.78 187.95,207.14 188.33,198.95 188.71,206.01 189.08,201.72 189.46,207.51 189.83,201.25 190.21,207.18 190.58,207.53 190.96,203.38 191.34,198.50 191.71,199.25 192.09,200.50 192.46,201.01 192.84,207.40 193.21,202.00 193.59,201.58 193.97,206.09 194.34,206.76 194.72,207.62 195.09,207.03 195.47,198.50 195.84,198.69 196.22,199.88 196.60,200.10 196.97,201.22 197.35,205.93 197.72,207.25 198.10,205.19 198.47,204.99 198.85,206.68 199.22,207.53 199.60,207.35 199.98,207.19 200.35,204.09 200.73,207.48 201.10,207.33 201.48,207.24 201.85,206.95 202.23,207.11 202.61,201.29 202.98,206.68 203.36,200.08 203.73,199.61 204.11,207.48 204.48,198.50 204.86,207.07 205.24,200.03 205.61,202.01 205.99,203.46 206.36,207.49 206.74,207.02 207.11,200.28 207.49,205.95 207.87,205.59 208.24,205.94 208.62,203.62 208.99,207.15 209.37,202.86 209.74,207.44 210.12,202.65 210.50,203.33 210.87,202.38 211.25,203.56 211.62,202.30 212.00,202.30 212.37,202.30 212.75,205.87 213.13,207.37 213.50,206.70 213.88,207.64 214.25,207.68 214.63,206.07 215.00,201.74 215.38,207.64 215.76,200.30 216.13,202.25 216.51,207.71 216.88,207.53 217.26,202.39 217.63,205.26 218.01,203.01 218.39,205.12 218.76,206.41 219.14,207.09 219.51,207.52 219.89,203.58 220.26,203.89 220.64,205.57 221.02,205.85 221.39,206.85 221.77,205.40 222.14,207.55 222.52,204.45 222.89,200.85 223.27,201.24 223.65,207.34 224.02,204.35 224.40,207.10 224.77,207.64 225.15,202.64 225.52,205.36 225.90,205.96 226.28,203.46 226.65,201.66 227.03,207.46 227.40,205.34 227.78,205.33 228.15,200.15 228.53,200.16 228.90,206.53 229.28,201.06 229.66,201.36 230.03,207.41 230.41,207.45 230.78,207.22 231.16,207.64 231.53,201.40 231.91,207.51 232.29,204.81 232.66,203.78 233.04,201.85 233.41,207.59 233.79,206.87 234.16,202.14 234.54,207.52 234.92,202.28 235.29,207.55 235.67,204.16 236.04,204.22 236.42,207.03 236.79,204.33 237.17,205.44 237.55,207.61 237.92,203.66 238.30,203.17 238.67,206.05 239.05,207.48 239.42,205.43 239.80,201.56 240.18,201.61 240.55,201.76 240.93,207.13 241.30,204.26 241.68,205.53 242.05,202.36 242.43,207.21 242.81,201.88 243.18,201.34 243.56,201.76 243.93,206.57 244.31,201.08 244.68,207.43 245.06,207.17 245.44,200.55 245.81,204.16 246.19,200.39 246.56,207.23 246.94,200.07 247.31,202.03 247.69,205.45 248.07,201.65 248.44,204.45 248.82,204.22 249.19,207.50 249.57,205.07 249.94,200.31 250.32,202.35 250.70,198.80 251.07,199.35 251.45,206.54 251.82,200.62 252.20,207.75 252.57,207.26 252.95,205.63 253.32,207.53 253.70,204.67 254.08,205.37 254.45,203.30 254.83,207.35 255.20,203.89 255.58,203.52 255.95,206.19 256.33,203.85 256.71,206.05 257.08,204.14 257.46,207.63 257.83,201.29 258.21,204.43 258.58,199.45 258.96,198.70 259.34,201.10 259.71,207.82 260.09,205.22 260.46,207.39 260.84,207.39 261.21,200.76 261.59,202.07 261.97,200.33 262.34,205.91 262.72,207.63 263.09,200.48 263.47,201.26 263.84,201.72 264.22,199.69 264.60,199.38 264.97,197.30 265.35,180.00 265.72,193.74 266.10,204.63 266.47,199.01 266.85,201.40 267.23,199.29 267.60,198.13 267.98,206.05 268.35,196.36 268.73,195.80 269.10,196.81 269.48,207.40 269.86,206.88 270.23,200.25 270.61,200.95 270.98,199.84 271.36,207.65 271.73,197.01 272.11,193.14 272.49,188.25 272.86,207.74 273.24,203.82 273.61,207.88 273.99,198.75 274.36,207.20 274.74,198.07 275.12,197.57 275.49,207.94 275.87,196.90 276.24,199.45 276.62,199.20 276.99,201.98 277.37,202.68 277.75,202.42 278.12,202.27 278.50,206.68 278.87,207.64 279.25,200.29 279.62,199.88 280.00,207.94 280.38,207.02 280.75,191.25 281.13,207.45 281.50,207.49 281.88,207.99 282.25,198.40 282.63,198.00 283.00,205.95 283.38,201.87 283.76,207.06 284.13,207.62 284.51,204.64 284.88,207.22 285.26,206.21 285.63,200.56 286.01,198.52 286.39,199.59 286.76,195.80 287.14,207.74 287.51,207.39 287.89,199.58 288.26,200.79 288.64,207.54 289.02,207.63 289.39,203.61 289.77,199.26 290.14,198.78 290.52,208.04 290.89,202.42 291.27,199.18 291.65,197.00 292.02,208.08 292.40,198.01 292.77,198.35 293.15,190.86 293.52,187.05 293.90,191.10 294.28,196.55 294.65,199.40 295.03,200.20 295.40,207.34 295.78,199.73 296.15,207.74 296.53,196.01 296.91,190.50 297.28,201.35 297.66,205.89 298.03,205.41 298.41,201.93 298.78,202.23 299.16,207.06 299.54,201.28 299.91,208.13 300.29,199.45 300.66,207.71 301.04,207.68 301.41,208.03 301.79,202.07 302.17,202.51 302.54,207.59 302.92,204.75 303.29,207.51 303.67,207.90 304.04,207.45 304.42,199.55 304.80,205.46 305.17,200.92 305.55,207.53 305.92,201.71 306.30,202.54 306.67,207.48 307.05,207.70 307.43,207.29 307.80,203.16 308.18,208.08 308.55,201.48 308.93,208.07 309.30,207.85 309.68,207.66 310.05,197.17 310.43,197.00 310.81,199.59 311.18,202.76 311.56,207.11 311.93,199.45 312.31,207.91 312.68,201.31 313.06,207.62 313.44,203.79 313.81,208.04 314.19,198.95 314.56,199.31 314.94,198.22 315.31,197.22 315.69,207.88 316.07,207.53 316.44,207.86 316.82,201.39 317.19,197.25 317.57,197.00 317.94,207.95 318.32,194.90 318.70,194.59 319.07,203.28 319.45,201.64 319.82,200.51 320.20,207.92 320.57,198.55 320.95,207.07 321.33,198.57 321.70,197.36 322.08,205.79 322.45,207.78 322.83,207.58 323.20,196.16 323.58,197.13 323.96,196.93 324.33,207.41 324.71,192.64 325.08,191.30 325.46,196.67 325.83,199.70 326.21,199.48 326.59,200.16 326.96,205.91 327.34,207.93 327.71,203.63 328.09,206.67 328.46,206.33 328.84,201.67 329.22,207.90 329.59,207.98 329.97,207.68 330.34,207.40 330.72,207.77 331.09,198.05 331.47,200.61 331.85,199.19 332.22,199.87 332.60,200.52 332.97,207.94 333.35,207.46 333.72,205.07 334.10,207.82 334.48,201.84 334.85,207.63 335.23,206.36 335.60,207.68 335.98,203.03 336.35,202.17 336.73,203.11 337.10,203.52 337.48,202.58 337.86,206.06 338.23,203.11 338.61,202.96 338.98,202.81 339.36,203.04 339.73,205.09 340.11,204.81 340.49,203.68 340.86,206.86 341.24,201.92 341.61,200.36 341.99,207.58 342.36,207.75 342.74,207.90 343.12,205.36 343.49,199.35 343.87,201.92 344.24,201.30 344.62,196.73 344.99,195.97 345.37,196.00 345.75,196.79 346.12,207.40 346.50,201.13 346.87,198.45 347.25,204.27 347.62,201.35 348.00,201.67 348.38,196.99 348.75,195.80 349.13,207.17 349.50,198.62 349.88,207.79 350.25,207.50 350.63,205.62 351.01,207.86 351.38,204.85 351.76,205.96 352.13,207.23 352.51,203.91 352.88,206.90 353.26,207.71 353.64,205.72 354.01,203.36 354.39,207.51 354.76,203.63 355.14,207.69 355.51,203.05 355.89,207.34 356.27,205.77 356.64,207.81 357.02,205.90 357.39,207.78 357.77,207.61 358.14,200.82 358.52,207.26 358.90,198.41 359.27,199.37 359.65,203.96 360.02,198.70 360.40,199.85 360.77,199.47 361.15,207.44 361.52,201.65 361.90,207.73 362.28,201.25 362.65,198.92 363.03,203.29 363.40,207.92 363.78,196.03 364.15,205.57 364.53,194.56 364.91,195.05 365.28,197.17 365.66,198.46 366.03,200.23 366.41,202.12 366.78,207.47 367.16,201.98 367.54,206.78 367.91,207.35 368.29,190.95 368.66,195.26 369.04,207.39 369.41,205.58 369.79,207.75 370.17,207.63 370.54,207.81 370.92,207.29 371.29,202.92 371.67,207.52 372.04,200.86 372.42,202.35 372.80,206.91 373.17,201.91 373.55,202.17 373.92,202.28 374.30,206.74 374.67,207.13 375.05,207.55 375.43,206.80 375.80,203.31 376.18,201.11 376.55,206.48 376.93,199.55 377.30,207.32 377.68,202.75 378.06,205.69 378.43,202.20 378.81,205.01 379.18,207.41 379.56,204.30 379.93,201.23 380.31,203.50 380.69,204.63 381.06,202.85 381.44,201.66 381.81,198.63 382.19,198.50 382.56,206.05 382.94,201.49 383.32,207.85 383.69,205.76 384.07,202.37 384.44,202.44 384.82,207.59 385.19,207.19 385.57,207.62 385.95,207.45 386.32,207.43 386.70,203.68 387.07,205.27 387.45,202.75 387.82,202.33 388.20,207.12 388.57,202.11 388.95,207.06 389.33,205.83 389.70,207.61 390.08,199.58 390.45,201.76 390.83,206.25 391.20,207.48 391.58,197.30 391.96,197.63 392.33,206.80 392.71,202.25 393.08,203.25 393.46,204.88 393.83,207.84 394.21,201.89 394.59,206.16 394.96,199.80 395.34,207.57 395.71,200.93 396.09,205.68 396.46,199.28 396.84,192.50 397.22,201.93 397.59,195.60 397.97,205.49 398.34,207.53 398.72,199.24 399.09,207.78 399.47,205.57 399.85,194.26 400.22,207.26 400.60,190.39 400.97,185.20 401.35,206.83 401.72,199.64 402.10,207.87 402.48,190.56 402.85,206.44 403.23,193.88 403.60,205.37 403.98,207.55 404.35,207.39 404.73,189.44 405.11,207.17 405.48,207.05 405.86,189.74 406.23,207.19 406.61,207.43 406.98,176.99 407.36,175.00 407.74,206.09 408.11,176.35 408.49,175.81 408.86,207.61 409.24,172.38 409.61,190.71 409.99,170.57 410.37,177.12 410.74,174.05 411.12,164.50 411.49,164.33 411.87,167.79 412.24,203.06 412.62,204.44 413.00,169.90 413.37,206.41 413.75,199.66 414.12,210.38 414.50,209.20 414.87,156.43 415.25,157.53 415.62,195.05 416.00,209.74 416.38,171.95 416.75,169.23 417.13,162.00 417.50,179.92 417.88,189.46 418.25,204.75 418.63,205.13 419.01,172.17 419.38,205.14 419.76,203.61 420.13,191.76 420.51,186.85 420.88,208.68 421.26,210.37 421.64,181.77 422.01,198.99 422.39,198.94 422.76,188.73 423.14,188.98 423.51,189.42 423.89,209.10 424.27,186.40 424.64,191.53 425.02,190.83 425.39,196.06 425.77,206.18 426.14,192.41 426.52,204.57 426.90,196.78 427.27,195.13 427.65,203.39 428.02,185.69 428.40,191.05 428.77,191.52 429.15,147.45 429.53,147.45 429.90,204.26 430.28,205.43 430.65,206.89 431.03,210.31 431.40,172.65 431.78,167.26 432.16,170.03 432.53,166.83 432.91,167.93 433.28,186.80 433.66,208.27 434.03,210.05 434.41,208.17 434.79,165.90 435.16,170.30 435.54,210.40 435.91,167.45 436.29,170.14 436.66,166.71 437.04,210.40 437.42,147.45 437.79,147.45 438.17,209.68 438.54,209.74 438.92,194.62 439.29,196.79 439.67,197.36 440.05,202.42 440.42,191.82 440.80,204.69 441.17,202.94 441.55,172.64 441.92,169.10 442.30,204.85 442.68,183.55 443.05,189.06 443.43,204.29 443.80,175.58 444.18,204.87 444.55,196.48 444.93,203.06 445.30,206.70 445.68,203.84 446.06,208.47 446.43,201.30 446.81,209.86 447.18,200.19 447.56,190.52 447.93,201.61 448.31,208.00 448.69,185.19 449.06,205.99 449.44,207.56 449.81,194.18 450.19,194.40 450.56,195.13 450.94,197.18 451.32,199.99 451.69,201.17 452.07,207.49 452.44,202.16 452.82,207.24 453.19,203.66 453.57,206.09 453.95,207.42 454.32,199.22 454.70,205.90 455.07,207.28 455.45,207.19 455.82,188.27 456.20,193.41 456.58,192.93 456.95,197.33 457.33,205.56 457.70,205.98 458.08,206.45 458.45,196.47 458.83,200.15 459.21,207.54 459.58,187.05 459.96,192.25 460.33,201.22 460.71,205.50 461.08,207.28 461.46,196.48 461.84,207.77 462.21,199.09 462.59,195.10 462.96,199.00 463.34,206.85 463.71,204.63 464.09,195.32 464.47,207.08 464.84,186.75 465.22,193.68 465.59,206.10 465.97,207.28 466.34,195.36 466.72,203.50 467.10,196.75 467.47,207.69 467.85,207.80 468.22,201.27 468.60,200.35 468.97,201.48 469.35,199.18 469.73,207.40 470.10,204.45 470.48,206.96 470.85,206.15 471.23,207.78 471.60,200.64 471.98,206.58 472.35,200.10 472.73,200.70 473.11,206.73 473.48,205.85 473.86,202.71 474.23,201.46 474.61,207.59 474.98,201.33 475.36,207.19 475.74,206.92 476.11,207.41 476.49,202.95 476.86,198.40 477.24,198.60 477.61,205.96 477.99,207.45 478.37,201.36 478.74,207.41 479.12,207.11 479.49,206.97 479.87,207.52 480.24,203.13 480.62,198.40 481.00,207.37 481.37,205.96 481.75,207.60 482.12,204.20 482.50,206.94 482.87,201.89 483.25,206.15 483.63,197.94 484.00,196.24 484.38,195.50 484.75,196.28 485.13,201.02 485.50,206.32 485.88,200.39 486.26,205.47 486.63,205.64 487.01,200.86 487.38,206.72 487.76,207.29 488.13,200.83 488.51,206.14 488.89,207.40 489.26,207.23 489.64,206.72 490.01,207.71 490.39,199.37 490.76,200.64 491.14,206.63 491.52,202.69 491.89,207.45 492.27,207.69 492.64,201.69 493.02,201.05 493.39,206.15 493.77,202.15 494.15,204.87 494.52,201.98 494.90,203.55 495.27,207.13 495.65,207.32 496.02,207.26 496.40,206.80 496.77,200.19 497.15,203.19 497.53,202.30 497.90,206.66 498.28,199.71 498.65,198.89 499.03,199.28 499.40,199.19 499.78,203.16 500.16,198.37 500.53,201.67 500.91,207.15 501.28,197.72 501.66,201.21 502.03,207.11 502.41,195.70 502.79,206.01 503.16,197.87 503.54,199.36 503.91,201.20 504.29,207.27 504.66,204.87 505.04,204.99 505.42,201.85 505.79,206.63 506.17,207.06 506.54,207.32 506.92,207.24 507.29,201.89 507.67,202.10 508.05,206.46 508.42,207.55 508.80,206.12 509.17,199.92 509.55,198.70 509.92,206.28 510.30,206.95 510.68,199.85 511.05,205.68 511.43,207.50 511.80,202.31 512.18,205.71 512.55,202.49 512.93,205.17 513.31,202.94 513.68,207.52 514.06,207.30 514.43,202.85 514.81,205.81 515.18,202.60 515.56,206.10 515.94,203.50 516.31,202.30 516.69,204.10 517.06,204.03 517.44,202.22 517.81,206.88 518.19,206.59 518.57,201.61 518.94,203.10 519.32,201.68 519.69,205.59 520.07,201.65 520.44,206.07 520.82,201.08 521.20,200.53 521.57,200.60 521.95,201.99 522.32,205.79 522.70,201.76 523.07,207.50 523.45,205.86 523.83,204.78 524.20,201.28 524.58,207.07 524.95,207.18 525.33,202.53 525.70,200.09 526.08,207.47 526.45,203.55 526.83,206.88 527.21,207.41 527.58,207.36 527.96,201.61 528.33,201.73 528.71,205.23 529.08,206.99 529.46,202.85 529.84,207.20 530.21,207.27 530.59,206.05 530.96,201.31 531.34,205.97 531.71,201.55 532.09,203.35 532.47,205.10 532.84,205.44 533.22,202.50 533.59,207.36 533.97,201.74 534.34,205.76 534.72,200.25 535.10,205.97 535.47,197.84 535.85,193.58 536.22,194.76 536.60,207.68 536.97,204.01 537.35,205.58 537.73,195.59 538.10,195.38 538.48,206.54 538.85,200.01 539.23,207.23 539.60,205.30 539.98,204.93 540.36,205.29 540.73,203.63 541.11,206.97 541.48,200.66 541.86,201.29 542.23,199.35 542.61,204.90 542.99,204.62 543.36,207.50 543.74,203.46 544.11,205.62 544.49,201.28 544.86,201.44 545.24,200.93 545.62,206.17 545.99,199.45 546.37,207.61 546.74,206.77 547.12,197.22 547.49,196.85 547.87,207.15 548.25,197.61 548.62,207.13 549.00,207.35 549.37,203.71 549.75,207.21 550.12,202.30 550.50,199.23 550.88,199.14 551.25,207.67 551.63,198.72 552.00,200.60 552.38,199.28 552.75,207.27 553.13,199.38 553.50,199.13 553.88,206.90 554.26,207.49 554.63,205.92 555.01,205.74 555.38,203.91 555.76,207.24 556.13,197.03 556.51,197.10 556.89,200.53 557.26,205.80 557.64,204.36 558.01,202.58 558.39,199.88 558.76,202.90 559.14,207.30 559.52,206.84 559.89,207.05 560.27,207.00 560.64,193.30 561.02,202.83 561.39,193.98 561.77,205.47 562.15,207.47 562.52,199.13 562.90,203.68 563.27,197.27 563.65,199.53 564.02,202.50 564.40,197.70 564.78,197.26 565.15,196.52 565.53,207.19 565.90,194.81 566.28,194.45 566.65,198.70 567.03,204.35 567.41,205.88 567.78,199.22 568.16,199.69 568.53,206.87 568.91,205.50 569.28,207.13 569.66,207.41 570.04,201.58 570.41,201.04 570.79,206.02 571.16,201.77 571.54,205.27 571.91,205.55 572.29,207.08 572.67,205.60 573.04,207.31 573.42,206.71 573.79,198.65 574.17,207.61 574.54,196.75 574.92,195.85 575.30,195.63 575.67,196.16 576.05,207.58 576.42,202.18 576.80,198.93 577.17,205.53 577.55,206.76 577.92,198.84 578.30,205.48 578.68,206.70 579.05,205.43 579.43,203.78 579.80,200.34 580.18,199.94 580.55,207.56 580.93,197.87 581.31,197.90 581.68,195.47 582.06,194.08 582.43,204.90 582.81,194.78 583.18,207.51 583.56,196.35 583.94,204.97 584.31,197.24 584.69,205.20 585.06,196.76 585.44,187.00 585.81,187.21 586.19,201.51 586.57,207.59 586.94,192.67 587.32,197.49 587.69,205.73 588.07,206.38 588.44,207.38 588.82,192.51 589.20,205.37 589.57,197.11 589.95,205.23 590.32,190.36 590.70,205.20 591.07,195.57 591.45,206.56 591.83,201.03 592.20,201.77 592.58,206.93 592.95,207.01 593.33,207.00 593.70,207.36 594.08,199.55 594.46,199.55 594.83,199.55 595.21,203.00 595.58,200.05 595.96,207.21 596.33,200.78 596.71,203.63 597.09,206.96 597.46,200.98 597.84,207.39 598.21,202.31 598.59,200.46 598.96,205.37 599.34,203.36 599.72,194.55 600.09,203.62 600.47,205.73 600.84,201.53 601.22,207.48 601.59,203.16 601.97,206.78 602.35,195.67 602.72,207.27 603.10,193.52 603.47,204.42 603.85,190.74 604.22,206.96 604.60,205.54 604.98,206.90 605.35,193.43 605.73,205.93 606.10,198.20 606.48,206.63 606.85,198.27 607.23,206.36 607.60,199.11 607.98,207.43 608.36,196.47 608.73,195.43 609.11,195.19 609.48,206.98 609.86,207.20 610.23,201.49 610.61,206.34 610.99,197.74 611.36,201.52 611.74,207.46 612.11,207.25 612.49,185.31 612.86,177.85 613.24,206.99 613.62,207.20 613.99,187.34 614.37,182.82 614.74,183.10 615.12,207.19 615.49,206.05 615.87,197.49 616.25,206.67 616.62,206.03 617.00,194.55 617.37,207.13 617.75,197.35 618.12,197.60 618.50,207.27"/>
<path class="k" d="M77.5 210.5v5.4M167.5 210.5v5.4M257.5 210.5v5.4M348.5 210.5v5.4M438.5 210.5v5.4M528.5 210.5v5.4M618.5 210.5v5.4M77.5 154.5h-5.4M77.5 173.5h-5.4M77.5 192.5h-5.4M77.5 210.5h-5.4"/>
<rect class="k" x="77.5" y="152.5" width="541.0" height="58.0" stroke-linejoin="miter"/>
<text class="t"><tspan x="67.20" y="158.72" text-anchor="end" textLength="35.40" lengthAdjust="spacingAndGlyphs">12000</tspan></text>
<text class="t"><tspan x="67.20" y="177.72" text-anchor="end" textLength="28.32" lengthAdjust="spacingAndGlyphs">8000</tspan></text>
<text class="t"><tspan x="67.20" y="196.72" text-anchor="end" textLength="28.32" lengthAdjust="spacingAndGlyphs">4000</tspan></text>
<text class="t"><tspan x="67.20" y="214.72" text-anchor="end" textLength="7.08" lengthAdjust="spacingAndGlyphs">0</tspan></text>
<text class="t" x="77.50" y="229.85" text-anchor="middle" textLength="7.08" lengthAdjust="spacingAndGlyphs">0</text>
<text class="t" x="167.50" y="229.85" text-anchor="middle" textLength="7.08" lengthAdjust="spacingAndGlyphs">4</text>
<text class="t" x="257.50" y="229.85" text-anchor="middle" textLength="7.08" lengthAdjust="spacingAndGlyphs">8</text>
<text class="t" x="348.50" y="229.85" text-anchor="middle" textLength="14.16" lengthAdjust="spacingAndGlyphs">12</text>
<text class="t" x="438.50" y="229.85" text-anchor="middle" textLength="14.16" lengthAdjust="spacingAndGlyphs">16</text>
<text class="t" x="528.50" y="229.85" text-anchor="middle" textLength="14.16" lengthAdjust="spacingAndGlyphs">20</text>
<text class="t" x="618.50" y="229.85" text-anchor="middle" textLength="14.16" lengthAdjust="spacingAndGlyphs">24</text>
<path class="g" d="M77.5 268.5V327.5M167.5 268.5V327.5M257.5 268.5V327.5M348.5 268.5V327.5M438.5 268.5V327.5M528.5 268.5V327.5M618.5 268.5V327.5M77.5 268.5H618.5M77.5 280.5H618.5M77.5 292.5H618.5M77.5 303.5H618.5M77.5 315.5H618.5M77.5 327.5H618.5"/>
<path class="d" d="M77.5 312H618.5"/>
<path class="k" d="M77.5 327.5v5.4M167.5 327.5v5.4M257.5 327.5v5.4M348.5 327.5v5.4M438.5 327.5v5.4M528.5 327.5v5.4M618.5 327.5v5.4M77.5 268.5h-5.4M77.5 280.5h-5.4M77.5 292.5h-5.4M77.5 303.5h-5.4M77.5 315.5h-5.4M77.5 327.5h-5.4"/>
<rect class="k" x="77.5" y="268.5" width="541.0" height="59.0" stroke-linejoin="miter"/>
<text class="t"><tspan x="67.20" y="272.43" text-anchor="end" textLength="14.16" lengthAdjust="spacingAndGlyphs">80</tspan></text>
<text class="t"><tspan x="67.20" y="284.43" text-anchor="end" textLength="14.16" lengthAdjust="spacingAndGlyphs">60</tspan></text>
<text class="t"><tspan x="67.20" y="296.43" text-anchor="end" textLength="14.16" lengthAdjust="spacingAndGlyphs">40</tspan></text>
<text class="t"><tspan x="67.20" y="307.43" text-anchor="end" textLength="14.16" lengthAdjust="spacingAndGlyphs">20</tspan></text>
<text class="t"><tspan x="67.20" y="319.43" text-anchor="end" textLength="7.08" lengthAdjust="spacingAndGlyphs">0</tspan></text>
<text class="t"><tspan x="42.24" y="332.43" textLength="10.2" lengthAdjust="spacingAndGlyphs" style="stroke:none">−</tspan><tspan x="67.20" y="331.43" text-anchor="end" textLength="14.16" lengthAdjust="spacingAndGlyphs">20</tspan></text>
<text class="t" x="77.50" y="345.85" text-anchor="middle" textLength="7.08" lengthAdjust="spacingAndGlyphs">0</text>
<text class="t" x="167.50" y="345.85" text-anchor="middle" textLength="7.08" lengthAdjust="spacingAndGlyphs">4</text>
<text class="t" x="257.50" y="345.85" text-anchor="middle" textLength="7.08" lengthAdjust="spacingAndGlyphs">8</text>
<text class="t" x="348.50" y="345.85" text-anchor="middle" textLength="14.16" lengthAdjust="spacingAndGlyphs">12</text>
<text class="t" x="438.50" y="345.85" text-anchor="middle" textLength="14.16" lengthAdjust="spacingAndGlyphs">16</text>
<text class="t" x="528.50" y="345.85" text-anchor="middle" textLength="14.16" lengthAdjust="spacingAndGlyphs">20</text>
<text class="t" x="618.50" y="345.85" text-anchor="middle" textLength="14.16" lengthAdjust="spacingAndGlyphs">24</text>
<path class="g" d="M77.5 385.5V443.5M167.5 385.5V443.5M257.5 385.5V443.5M348.5 385.5V443.5M438.5 385.5V443.5M528.5 385.5V443.5M618.5 385.5V443.5M77.5 385.5H618.5M77.5 404.5H618.5M77.5 423.5H618.5M77.5 443.5H618.5"/>
<polyline class="d" clip-path="url(#c3)" points="77.50,413.80 78.20,413.80 78.20,408.93 79.30,408.93 79.30,404.05 80.30,404.05 80.30,408.93 80.90,408.93 80.90,404.05 84.20,404.05 84.20,408.93 89.75,408.93 89.75,408.93 91.01,408.93 91.01,413.80 92.25,413.80 92.25,408.93 93.01,408.93 93.01,413.80 93.71,413.80 93.71,408.93 94.09,408.93 94.09,413.80 94.47,413.80 94.47,408.93 95.00,408.93 95.00,399.18 96.50,399.18 96.50,399.18 97.80,399.18 97.80,404.05 98.18,404.05 98.18,399.18 99.32,399.18 99.32,404.05 99.70,404.05 99.70,399.18 100.74,399.18 100.74,404.05 101.12,404.05 101.12,399.18 101.91,399.18 101.91,404.05 102.32,404.05 102.32,399.18 103.20,399.18 103.20,404.05 103.58,404.05 103.58,399.18 104.31,399.18 104.31,404.05 105.36,404.05 105.36,399.18 105.74,399.18 105.74,404.05 106.15,404.05 106.15,399.18 106.25,399.18 106.25,404.05 110.10,404.05 110.10,408.93 110.80,408.93 110.80,404.05 112.30,404.05 112.30,399.18 114.15,399.18 114.15,389.43 114.85,389.43 114.85,394.30 115.72,394.30 115.72,399.18 116.77,399.18 116.77,394.30 117.50,394.30 117.50,389.43 120.50,389.43 120.50,394.30 125.00,394.30 125.00,389.43 128.00,389.43 128.00,394.30 128.93,394.30 128.93,399.18 129.31,399.18 129.31,394.30 129.95,394.30 129.95,399.18 131.75,399.18 131.75,399.18 133.65,399.18 133.65,404.05 134.35,404.05 134.35,399.18 135.50,399.18 135.50,394.30 139.25,394.30 139.25,394.30 140.17,394.30 140.17,399.18 141.71,399.18 141.71,394.30 142.21,394.30 142.21,399.18 142.86,399.18 142.86,394.30 144.50,394.30 144.50,394.30 155.75,394.30 155.75,394.30 157.65,394.30 157.65,399.18 158.81,399.18 158.81,394.30 159.19,394.30 159.19,399.18 160.23,399.18 160.23,394.30 160.25,394.30 160.25,399.18 163.75,399.18 163.75,394.30 168.25,394.30 168.25,399.18 169.55,399.18 169.55,404.05 170.25,404.05 170.25,394.30 172.00,394.30 172.00,394.30 173.15,394.30 173.15,389.43 174.43,389.43 174.43,399.18 175.12,399.18 175.12,394.30 184.00,394.30 184.00,399.18 187.25,399.18 187.25,394.30 187.95,394.30 187.95,399.18 190.03,399.18 190.03,404.05 190.72,404.05 190.72,399.18 192.85,399.18 192.85,394.30 194.75,394.30 194.75,408.93 195.45,408.93 195.45,394.30 199.39,394.30 199.39,399.18 200.82,399.18 200.82,394.30 201.20,394.30 201.20,399.18 201.25,399.18 201.25,394.30 203.50,394.30 203.50,399.18 211.00,399.18 211.00,399.18 211.38,399.18 211.38,404.05 212.25,404.05 212.25,408.93 212.95,408.93 212.95,399.18 213.76,399.18 213.76,404.05 214.14,404.05 214.14,399.18 216.25,399.18 216.25,399.18 220.00,399.18 220.00,404.05 221.15,404.05 221.15,408.93 221.85,408.93 221.85,404.05 225.65,404.05 225.65,408.93 226.75,408.93 226.75,404.05 227.30,404.05 227.30,408.93 228.00,408.93 228.00,404.05 229.00,404.05 229.00,399.18 229.64,399.18 229.64,404.05 231.59,404.05 231.59,399.18 232.75,399.18 232.75,399.18 233.50,399.18 233.50,394.30 234.25,394.30 234.25,389.43 238.00,389.43 238.00,389.43 238.84,389.43 238.84,394.30 239.50,394.30 239.50,384.55 239.88,384.55 239.88,394.30 241.00,394.30 241.00,389.43 241.46,389.43 241.46,394.30 241.84,394.30 241.84,389.43 242.15,389.43 242.15,399.18 242.85,399.18 242.85,389.43 246.65,389.43 246.65,399.18 247.35,399.18 247.35,394.30 250.00,394.30 250.00,394.30 250.38,394.30 250.38,404.05 250.76,404.05 250.76,394.30 251.84,394.30 251.84,404.05 252.22,404.05 252.22,394.30 252.25,394.30 252.25,394.30 252.63,394.30 252.63,399.18 253.01,399.18 253.01,394.30 255.79,394.30 255.79,399.18 256.00,399.18 256.00,389.43 258.24,389.43 258.24,394.30 259.75,394.30 259.75,389.43 260.39,389.43 260.39,399.18 262.14,399.18 262.14,389.43 262.52,389.43 262.52,399.18 263.50,399.18 263.50,394.30 265.33,394.30 265.33,399.18 266.78,399.18 266.78,394.30 267.16,394.30 267.16,399.18 267.54,399.18 267.54,394.30 268.75,394.30 268.75,394.30 282.25,394.30 282.25,399.18 289.30,399.18 289.30,394.30 295.00,394.30 295.00,394.30 295.88,394.30 295.88,399.18 296.93,399.18 296.93,394.30 297.25,394.30 297.25,394.30 300.25,394.30 300.25,399.18 302.15,399.18 302.15,404.05 302.85,404.05 302.85,399.18 304.75,399.18 304.75,394.30 310.00,394.30 310.00,399.18 318.25,399.18 318.25,394.30 321.27,394.30 321.27,389.43 322.92,389.43 322.92,404.05 323.62,404.05 323.62,399.18 328.77,399.18 328.77,394.30 329.48,394.30 329.48,399.18 331.75,399.18 331.75,404.05 336.38,404.05 336.38,399.18 337.50,399.18 337.50,408.93 338.20,408.93 338.20,404.05 340.00,404.05 340.00,404.05 340.38,404.05 340.38,413.80 341.70,413.80 341.70,404.05 342.39,404.05 342.39,413.80 343.00,413.80 343.00,399.18 343.67,399.18 343.67,404.05 344.05,404.05 344.05,399.18 346.00,399.18 346.00,399.18 352.25,399.18 352.25,408.93 352.95,408.93 352.95,399.18 353.50,399.18 353.50,399.18 353.88,399.18 353.88,404.05 355.38,404.05 355.38,399.18 357.34,399.18 357.34,404.05 357.72,404.05 357.72,399.18 359.03,399.18 359.03,404.05 359.58,404.05 359.58,399.18 359.96,399.18 359.96,404.05 360.25,404.05 360.25,404.05 362.50,404.05 362.50,404.05 365.50,404.05 365.50,404.05 370.00,404.05 370.00,404.05 370.51,404.05 370.51,408.93 371.29,408.93 371.29,404.05 372.05,404.05 372.05,408.93 372.43,408.93 372.43,404.05 373.00,404.05 373.00,404.05 379.92,404.05 379.92,408.93 380.62,408.93 380.62,404.05 385.02,404.05 385.02,408.93 386.90,408.93 386.90,404.05 388.77,404.05 388.77,408.93 389.48,408.93 389.48,399.18 391.75,399.18 391.75,399.18 393.25,399.18 393.25,404.05 395.55,404.05 395.55,399.18 396.04,399.18 396.04,404.05 396.42,404.05 396.42,399.18 396.88,399.18 396.88,404.05 397.00,404.05 397.00,404.05 398.15,404.05 398.15,408.93 398.85,408.93 398.85,404.05 403.00,404.05 403.00,404.05 404.18,404.05 404.18,408.93 404.75,408.93 404.75,404.05 405.57,404.05 405.57,408.93 405.95,408.93 405.95,404.05 406.00,404.05 406.00,408.93 411.25,408.93 411.25,418.68 412.75,418.68 412.75,413.80 413.45,413.80 413.45,418.68 414.00,418.68 414.00,413.80 416.50,413.80 416.50,413.80 418.20,413.80 418.20,418.68 418.58,418.68 418.58,413.80 419.99,413.80 419.99,418.68 420.25,418.68 420.25,413.80 433.00,413.80 433.00,413.80 434.84,413.80 434.84,418.68 435.22,418.68 435.22,413.80 435.60,413.80 435.60,418.68 436.71,418.68 436.71,413.80 437.44,413.80 437.44,418.68 437.96,418.68 437.96,413.80 438.91,413.80 438.91,418.68 439.29,418.68 439.29,413.80 439.92,413.80 439.92,418.68 440.30,418.68 440.30,413.80 441.25,413.80 441.25,408.93 444.25,408.93 444.25,413.80 445.75,413.80 445.75,413.80 446.13,413.80 446.13,418.68 448.08,418.68 448.08,413.80 448.97,413.80 448.97,418.68 449.98,418.68 449.98,413.80 451.06,413.80 451.06,418.68 451.44,418.68 451.44,413.80 453.09,413.80 453.09,418.68 453.47,418.68 453.47,413.80 455.66,413.80 455.66,418.68 457.36,418.68 457.36,413.80 458.60,413.80 458.60,418.68 459.25,418.68 459.25,413.80 463.75,413.80 463.75,408.93 464.38,408.93 464.38,413.80 465.61,413.80 465.61,408.93 467.50,408.93 467.50,408.93 472.75,408.93 472.75,418.68 475.00,418.68 475.00,413.80 475.38,413.80 475.38,418.68 475.76,418.68 475.76,413.80 476.34,413.80 476.34,418.68 477.13,418.68 477.13,413.80 477.51,413.80 477.51,418.68 477.89,418.68 477.89,413.80 480.10,413.80 480.10,418.68 480.64,418.68 480.64,413.80 481.02,413.80 481.02,418.68 481.40,418.68 481.40,413.80 482.35,413.80 482.35,418.68 482.73,418.68 482.73,413.80 483.25,413.80 483.25,413.80 486.25,413.80 486.25,408.93 489.27,408.93 489.27,404.05 489.98,404.05 489.98,408.93 492.88,408.93 492.88,413.80 493.58,413.80 493.58,408.93 496.00,408.93 496.00,399.18 499.00,399.18 499.00,399.18 499.85,399.18 499.85,404.05 500.49,404.05 500.49,399.18 501.26,399.18 501.26,404.05 503.25,404.05 503.25,399.18 503.63,399.18 503.63,404.05 505.75,404.05 505.75,399.18 507.88,399.18 507.88,394.30 508.58,394.30 508.58,404.05 510.25,404.05 510.25,404.05 510.63,404.05 510.63,408.93 511.01,408.93 511.01,404.05 512.61,404.05 512.61,408.93 513.25,408.93 513.25,404.05 521.50,404.05 521.50,404.05 522.35,404.05 522.35,408.93 522.73,408.93 522.73,404.05 524.40,404.05 524.40,408.93 524.55,408.93 524.55,413.80 526.05,413.80 526.05,408.93 526.75,408.93 526.75,413.80 528.18,413.80 528.18,418.68 528.56,418.68 528.56,413.80 529.49,413.80 529.49,418.68 530.64,418.68 530.64,413.80 531.15,413.80 531.15,418.68 531.87,418.68 531.87,413.80 532.25,413.80 532.25,418.68 532.75,418.68 532.75,413.80 540.25,413.80 540.25,408.93 547.40,408.93 547.40,413.80 548.10,413.80 548.10,408.93 553.00,408.93 553.00,404.05 558.25,404.05 558.25,413.80 561.25,413.80 561.25,408.93 562.54,408.93 562.54,413.80 562.92,413.80 562.92,408.93 563.80,408.93 563.80,413.80 565.26,413.80 565.26,408.93 565.64,408.93 565.64,413.80 566.50,413.80 566.50,413.80 567.50,413.80 567.50,404.05 577.00,404.05 577.00,404.05 579.25,404.05 579.25,408.93 579.63,408.93 579.63,404.05 580.01,404.05 580.01,408.93 580.39,408.93 580.39,404.05 580.77,404.05 580.77,408.93 581.15,408.93 581.15,404.05 581.89,404.05 581.89,408.93 582.27,408.93 582.27,404.05 582.66,404.05 582.66,408.93 583.34,408.93 583.34,404.05 583.75,404.05 583.75,399.18 586.75,399.18 586.75,404.05 591.25,404.05 591.25,408.93 594.25,408.93 594.25,413.80 600.25,413.80 600.25,408.93 606.25,408.93 606.25,404.05 614.50,404.05 614.50,408.93 616.00,408.93 616.00,413.80 618.50,413.80"/>
<path class="k" d="M77.5 443.5v5.4M167.5 443.5v5.4M257.5 443.5v5.4M348.5 443.5v5.4M438.5 443.5v5.4M528.5 443.5v5.4M618.5 443.5v5.4M77.5 385.5h-5.4M77.5 404.5h-5.4M77.5 423.5h-5.4M77.5 443.5h-5.4"/>
<rect class="k" x="77.5" y="385.5" width="541.0" height="58.0" stroke-linejoin="miter"/>
<text class="t"><tspan x="67.20" y="389.73" text-anchor="end" textLength="14.16" lengthAdjust="spacingAndGlyphs">12</tspan></text>
<text class="t"><tspan x="67.20" y="408.73" text-anchor="end" textLength="7.08" lengthAdjust="spacingAndGlyphs">8</tspan></text>
<text class="t"><tspan x="67.20" y="427.73" text-anchor="end" textLength="7.08" lengthAdjust="spacingAndGlyphs">4</tspan></text>
<text class="t"><tspan x="67.20" y="447.73" text-anchor="end" textLength="7.08" lengthAdjust="spacingAndGlyphs">0</tspan></text>
<text class="t" x="77.50" y="461.85" text-anchor="middle" textLength="7.08" lengthAdjust="spacingAndGlyphs">0</text>
<text class="t" x="167.50" y="461.85" text-anchor="middle" textLength="7.08" lengthAdjust="spacingAndGlyphs">4</text>
<text class="t" x="257.50" y="461.85" text-anchor="middle" textLength="7.08" lengthAdjust="spacingAndGlyphs">8</text>
<text class="t" x="348.50" y="461.85" text-anchor="middle" textLength="14.16" lengthAdjust="spacingAndGlyphs">12</text>
<text class="t" x="438.50" y="461.85" text-anchor="middle" textLength="14.16" lengthAdjust="spacingAndGlyphs">16</text>
<text class="t" x="528.50" y="461.85" text-anchor="middle" textLength="14.16" lengthAdjust="spacingAndGlyphs">20</text>
<text class="t" x="618.50" y="461.85" text-anchor="middle" textLength="14.16" lengthAdjust="spacingAndGlyphs">24</text>
<text class="s" font-size="16.5" x="89.20" y="27.80" text-anchor="start" textLength="50.20" lengthAdjust="spacingAndGlyphs">Howard</text>
<text class="s" font-size="16.5" x="295.30" y="27.80" text-anchor="start" textLength="65.40" lengthAdjust="spacingAndGlyphs">Threshold</text>
<text class="s" font-size="16.5"><tspan x="522.90" y="27.80" textLength="32.00" lengthAdjust="spacingAndGlyphs">2025</tspan><tspan x="555.60" y="32.10" font-size="23.0" textLength="7.2" lengthAdjust="spacingAndGlyphs" style="stroke-width:0.75px">/</tspan><tspan x="563.10" y="27.80" textLength="15.80" lengthAdjust="spacingAndGlyphs">09</tspan><tspan x="579.60" y="32.10" font-size="23.0" textLength="7.2" lengthAdjust="spacingAndGlyphs" style="stroke-width:0.75px">/</tspan><tspan x="587.10" y="27.80" textLength="16.20" lengthAdjust="spacingAndGlyphs">29</tspan></text>
<text class="s" font-size="16.5"><tspan x="306.60" y="143.60" textLength="54.00" lengthAdjust="spacingAndGlyphs">Triggers</tspan><tspan x="360.30" y="147.90" font-size="23.0" textLength="7.2" lengthAdjust="spacingAndGlyphs" style="stroke-width:0.75px">/</tspan><tspan x="367.80" y="143.60" textLength="21.00" lengthAdjust="spacingAndGlyphs">sec</tspan></text>
<text class="s" font-size="16.5" x="305.40" y="258.90" text-anchor="start" textLength="86.70" lengthAdjust="spacingAndGlyphs">Temperature</text>
<text class="s" font-size="16.5"><tspan x="288.20" y="375.80" textLength="61.60" lengthAdjust="spacingAndGlyphs">Satellites</tspan><tspan> </tspan><tspan x="354.50" y="375.80" textLength="52.80" lengthAdjust="spacingAndGlyphs">Tracked</tspan></text>
<text class="s" font-size="14.1" transform="translate(28.00 65.70) rotate(-90)" text-anchor="middle" textLength="26.40" lengthAdjust="spacingAndGlyphs">dBm</text>
<text class="s" font-size="14.1" transform="translate(25.20 181.00) rotate(-90)" text-anchor="middle" textLength="33.80" lengthAdjust="spacingAndGlyphs">Count</text>
<text class="s" font-size="14.1" transform="rotate(-90)"><tspan x="-305.4" y="36.0" font-size="15.5">°</tspan><tspan x="-298.6" y="35.0" textLength="8.4" lengthAdjust="spacingAndGlyphs">C</tspan></text>
<text class="s" font-size="14.1" transform="translate(44.90 414.60) rotate(-90)" text-anchor="middle" textLength="45.20" lengthAdjust="spacingAndGlyphs">Number</text>
</svg></body></html>
